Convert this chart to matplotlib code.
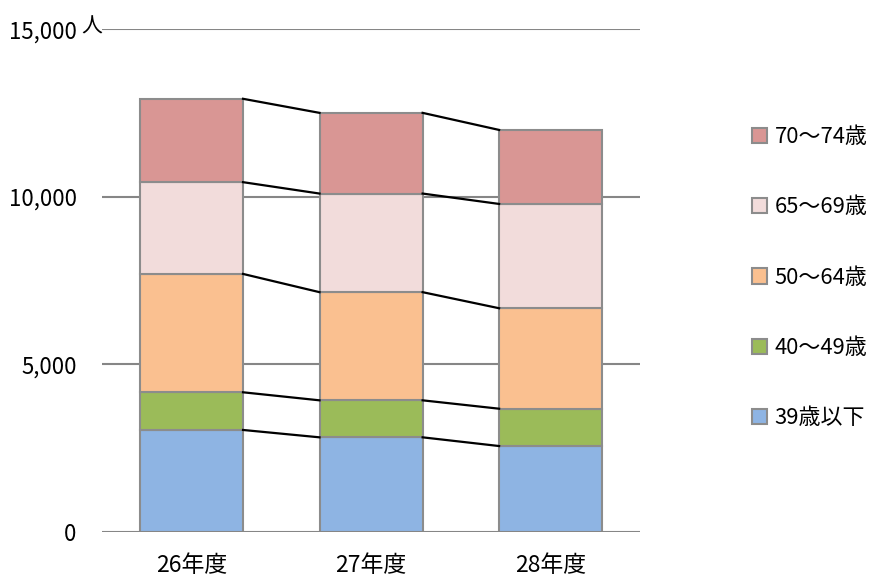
import matplotlib.pyplot as plt
import numpy as np

plt.rcParams['font.family'] = ['Noto Sans CJK JP', 'DejaVu Sans']

years = ["26年度", "27年度", "28年度"]
groups = ["39歳以下", "40～49歳", "50～64歳", "65～69歳", "70～74歳"]
age_39 = [3040, 2820, 2560]
age_40_49 = [1125, 1105, 1115]
age_50_64 = [3535, 3230, 3000]
age_65_69 = [2740, 2945, 3115]
age_70_74 = [2490, 2410, 2210]
colors = ["#8EB4E3", "#9BBB59", "#FAC090", "#F2DCDB", "#D99694"]

series = [age_39, age_40_49, age_50_64, age_65_69, age_70_74]

fig = plt.figure(figsize=(8.69, 5.78), dpi=100)
ax = fig.add_axes([0.117, 0.080, 0.620, 0.869])

x = np.arange(len(years))
w = 0.574
bottom = np.zeros(len(years))
handles = []
for vals, col, name in zip(series, colors, groups):
    vals = np.array(vals)
    b = ax.bar(x, vals, w, bottom=bottom, color=col, edgecolor="#8c8c8c",
               linewidth=1.5, label=name, zorder=3)
    handles.append(b)
    top = bottom + vals
    # connector lines between bars
    for i in range(len(years) - 1):
        ax.plot([x[i] + w / 2, x[i + 1] - w / 2], [top[i], top[i + 1]],
                color="black", linewidth=1.6, zorder=4)
    bottom = top

ax.set_xlim(-0.5, 2.5)
ax.set_ylim(0, 15000)
ax.set_yticks([0, 5000, 10000, 15000])
ax.set_yticklabels(["0", "5,000", "10,000", "15,000"], fontsize=16)
ax.set_xticks(x)
ax.set_xticklabels(years, fontsize=16.5)
ax.tick_params(axis="both", length=0)
ax.tick_params(axis="y", pad=18)
ax.tick_params(axis="x", pad=16)
ax.grid(axis="y", color="#868686", linewidth=1.5, zorder=0)
for s in ax.spines.values():
    s.set_visible(False)
ax.axhline(0, color="#868686", linewidth=2, zorder=5)

ax.text(0.0, 15080, "人", transform=ax.get_yaxis_transform(), fontsize=15,
        ha="right", va="center")

fig.legend(handles[::-1], groups[::-1], loc="upper left",
           bbox_to_anchor=(0.855, 0.797), frameon=False, fontsize=15.8,
           handlelength=0.7, handleheight=0.7, handletextpad=0.35,
           labelspacing=2.2, borderaxespad=0)

fig.savefig("out.png", dpi=100)
